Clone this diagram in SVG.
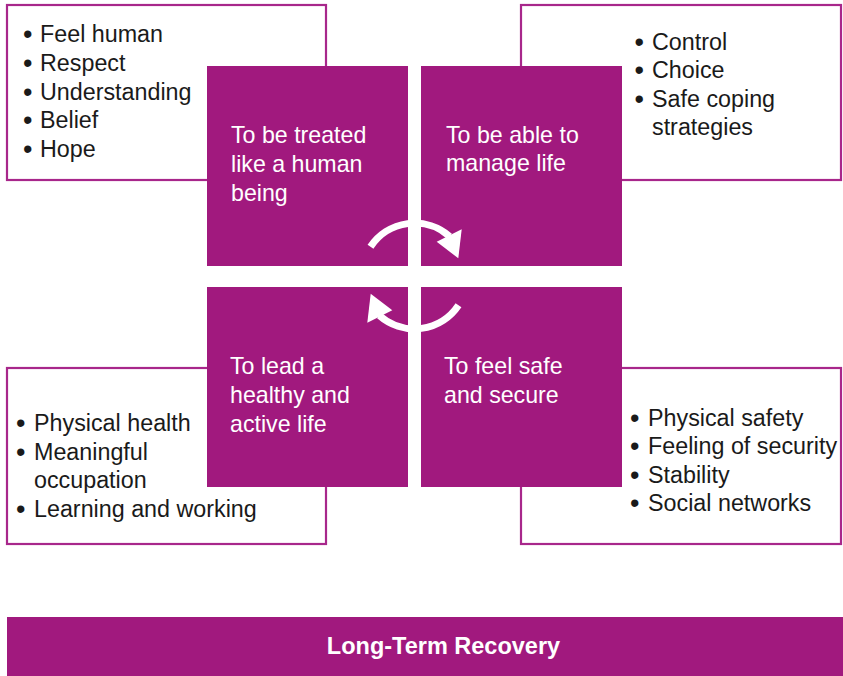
<svg xmlns="http://www.w3.org/2000/svg" width="843" height="676" viewBox="0 0 843 676">
<style>
.box{fill:#fff;stroke:#a8278b;stroke-width:2.2}
.sq{fill:#a1197e}
.t{font-family:"Liberation Sans",Arial,sans-serif;font-size:23.3px;fill:#1a1a1a}
.b{font-size:27px}
.w{font-family:"Liberation Sans",Arial,sans-serif;font-size:23.2px;fill:#fff}
.arc{fill:none;stroke:#fff;stroke-width:7}
.head{fill:#fff}
.bar{fill:#a1197e}
.bt{font-family:"Liberation Sans",Arial,sans-serif;font-size:23.5px;font-weight:bold;fill:#fff}
</style>
<rect width="843" height="676" fill="#fff"/>
<g id="list-top-left">
<rect class="box" x="7" y="5" width="319" height="175"/>
<text class="t"><tspan class="b" x="23" y="43">•</tspan><tspan x="40" y="42">Feel human</tspan></text>
<text class="t"><tspan class="b" x="23" y="72">•</tspan><tspan x="40" y="71">Respect</tspan></text>
<text class="t"><tspan class="b" x="23" y="101">•</tspan><tspan x="40" y="100">Understanding</tspan></text>
<text class="t"><tspan class="b" x="23" y="129">•</tspan><tspan x="40" y="128">Belief</tspan></text>
<text class="t"><tspan class="b" x="23" y="158">•</tspan><tspan x="40" y="157">Hope</tspan></text>
</g>
<g id="list-top-right">
<rect class="box" x="521" y="5" width="320" height="175"/>
<text class="t"><tspan class="b" x="634.5" y="51">•</tspan><tspan x="652" y="50">Control</tspan></text>
<text class="t"><tspan class="b" x="634.5" y="79">•</tspan><tspan x="652" y="78">Choice</tspan></text>
<text class="t"><tspan class="b" x="634.5" y="108">•</tspan><tspan x="652" y="107">Safe coping</tspan></text>
<text class="t"><tspan x="652" y="135">strategies</tspan></text>
</g>
<g id="list-bottom-left">
<rect class="box" x="7" y="368" width="319" height="176"/>
<text class="t"><tspan class="b" x="16" y="432">•</tspan><tspan x="34" y="431">Physical health</tspan></text>
<text class="t"><tspan class="b" x="16" y="461">•</tspan><tspan x="34" y="460">Meaningful</tspan></text>
<text class="t"><tspan x="34" y="488">occupation</tspan></text>
<text class="t"><tspan class="b" x="16" y="518">•</tspan><tspan x="34" y="517">Learning and working</tspan></text>
</g>
<g id="list-bottom-right">
<rect class="box" x="521" y="368" width="320" height="176"/>
<text class="t"><tspan class="b" x="630" y="427">•</tspan><tspan x="648" y="426">Physical safety</tspan></text>
<text class="t"><tspan class="b" x="630" y="455">•</tspan><tspan x="648" y="454">Feeling of security</tspan></text>
<text class="t"><tspan class="b" x="630" y="484">•</tspan><tspan x="648" y="483">Stability</tspan></text>
<text class="t"><tspan class="b" x="630" y="512">•</tspan><tspan x="648" y="511">Social networks</tspan></text>
</g>
<g id="sq-treated">
<rect class="sq" x="207" y="66" width="201" height="200"/>
<text class="w"><tspan x="231" y="143">To be treated</tspan><tspan x="231" y="172">like a human</tspan><tspan x="231" y="201">being</tspan></text>
</g>
<g id="sq-manage">
<rect class="sq" x="421" y="66" width="201" height="200"/>
<text class="w"><tspan x="446" y="143">To be able to</tspan><tspan x="446" y="171">manage life</tspan></text>
</g>
<g id="sq-healthy">
<rect class="sq" x="207" y="287" width="201" height="200"/>
<text class="w"><tspan x="230" y="374">To lead a</tspan><tspan x="230" y="403">healthy and</tspan><tspan x="230" y="432">active life</tspan></text>
</g>
<g id="sq-safe">
<rect class="sq" x="421" y="287" width="201" height="200"/>
<text class="w"><tspan x="444" y="374">To feel safe</tspan><tspan x="444" y="403">and secure</tspan></text>
</g>
<g id="connectors">
<path class="arc" d="M370.5 246.8 A53 53 0 0 1 449.6 236.3"/>
<polygon class="head" points="436.7,241.7 461.7,229.3 458.3,258.3"/>
<path class="arc" d="M458.5 305.2 A53 53 0 0 1 379.4 315.7"/>
<polygon class="head" points="392.3,310.3 367.3,322.7 370.7,293.7"/>
</g>
<g id="recovery">
<rect class="bar" x="7" y="617" width="836" height="59"/>
<text class="bt" x="443.5" y="654" text-anchor="middle">Long-Term Recovery</text>
</g>
</svg>
